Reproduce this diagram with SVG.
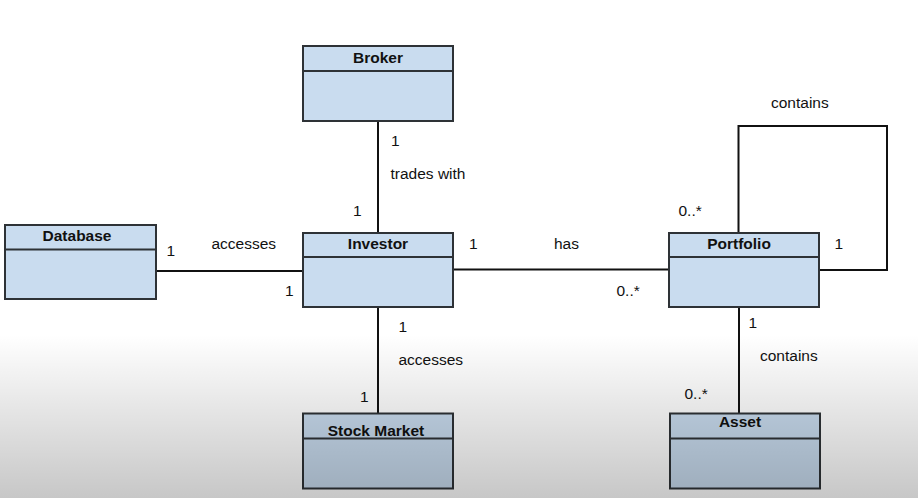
<svg xmlns="http://www.w3.org/2000/svg" width="918" height="498" viewBox="0 0 918 498">
<defs>
<linearGradient id="shade" x1="0" y1="0" x2="0" y2="1">
<stop offset="0" stop-color="#000" stop-opacity="0"/>
<stop offset="1" stop-color="#000" stop-opacity="0.22"/>
</linearGradient>
<style>
.box{fill:#c9dcef;stroke:#2e3236;stroke-width:2}
.div{stroke:#2e3236;stroke-width:2}
.title{font-family:"Liberation Sans",Arial,sans-serif;font-weight:bold;font-size:15.5px;fill:#111;text-anchor:middle}
.lbl{font-family:"Liberation Sans",Arial,sans-serif;font-size:15.5px;fill:#111}
.conn{fill:none;stroke:#111;stroke-width:2}
</style>
</defs>
<rect width="918" height="498" fill="#fff"/>
<g id="connectors">
<line class="conn" x1="378" y1="121" x2="378" y2="232"/>
<line class="conn" x1="156" y1="271" x2="303" y2="271"/>
<line class="conn" x1="453" y1="269.5" x2="669" y2="269.5"/>
<line class="conn" x1="378" y1="307" x2="378" y2="413"/>
<line class="conn" x1="739" y1="307" x2="739" y2="413"/>
<polyline class="conn" points="738.5,232 738.5,126 887,126 887,270 819,270"/>
<text class="lbl" x="391" y="146">1</text>
<text class="lbl" x="390.5" y="179">trades with</text>
<text class="lbl" x="353" y="216">1</text>
<text class="lbl" x="211.5" y="249">accesses</text>
<text class="lbl" x="166.5" y="256">1</text>
<text class="lbl" x="285" y="296">1</text>
<text class="lbl" x="469" y="249">1</text>
<text class="lbl" x="554" y="249">has</text>
<text class="lbl" x="616.5" y="296">0..*</text>
<text class="lbl" x="678.5" y="216">0..*</text>
<text class="lbl" x="834.5" y="249">1</text>
<text class="lbl" x="771" y="108">contains</text>
<text class="lbl" x="398.5" y="332">1</text>
<text class="lbl" x="398.5" y="365">accesses</text>
<text class="lbl" x="360" y="402">1</text>
<text class="lbl" x="748.5" y="328">1</text>
<text class="lbl" x="760" y="361">contains</text>
<text class="lbl" x="684.5" y="399">0..*</text>
</g>
<g id="broker">
<rect class="box" x="303" y="46" width="150" height="75"/>
<line class="div" x1="303" y1="71" x2="453" y2="71"/>
<text class="title" x="378" y="62.5">Broker</text>
</g>
<g id="database">
<rect class="box" x="5" y="225" width="151" height="74"/>
<line class="div" x1="5" y1="249.5" x2="156" y2="249.5"/>
<text class="title" x="77" y="241">Database</text>
</g>
<g id="investor">
<rect class="box" x="303" y="233" width="150" height="74"/>
<line class="div" x1="303" y1="257" x2="453" y2="257"/>
<text class="title" x="378" y="249">Investor</text>
</g>
<g id="portfolio">
<rect class="box" x="669" y="233" width="150" height="74"/>
<line class="div" x1="669" y1="257" x2="819" y2="257"/>
<text class="title" x="739" y="249">Portfolio</text>
</g>
<g id="stock-market">
<rect class="box" x="303" y="413.5" width="150" height="75"/>
<line class="div" x1="303" y1="438.5" x2="453" y2="438.5"/>
<text class="title" x="376" y="436">Stock Market</text>
</g>
<g id="asset">
<rect class="box" x="670" y="413.5" width="150" height="75"/>
<line class="div" x1="670" y1="438.5" x2="820" y2="438.5"/>
<text class="title" x="740" y="427">Asset</text>
</g>
<rect x="0" y="335" width="918" height="163" fill="url(#shade)" pointer-events="none"/>
</svg>
